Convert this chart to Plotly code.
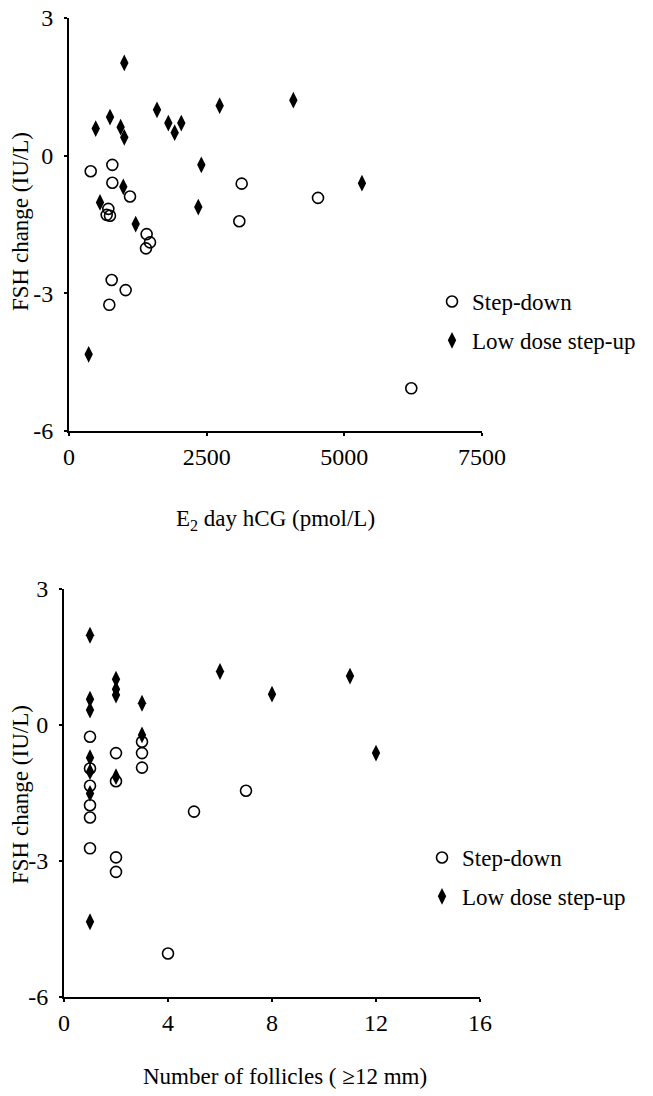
import plotly.graph_objects as go

# ---- Data: top panel (E2 day hCG vs FSH change) ----
sd_e2 = [394, 787, 787, 3136, 1108, 714, 684, 744, 3093, 1410, 1471, 1398, 775, 1029, 732, 4522, 6216]
sd_fsh_top = [-0.34, -0.20, -0.59, -0.61, -0.89, -1.16, -1.29, -1.31, -1.43, -1.71, -1.89, -2.02, -2.71, -2.93, -3.25, -0.92, -5.07]

ld_e2 = [1004, 485, 745, 938, 1004, 1598, 1804, 2039, 1919, 2736, 2403, 986, 563, 1211, 2348, 4074, 5320, 357]
ld_fsh_top = [2.02, 0.59, 0.84, 0.62, 0.40, 1.00, 0.71, 0.71, 0.50, 1.09, -0.20, -0.68, -1.02, -1.49, -1.12, 1.21, -0.60, -4.33]

# ---- Data: bottom panel (number of follicles vs FSH change) ----
sd_foll = [1, 1, 1, 1, 1, 1, 2, 2, 2, 2, 3, 3, 3, 4, 5, 7]
sd_fsh_bot = [-0.26, -0.96, -1.34, -1.77, -2.04, -2.72, -0.62, -1.24, -2.92, -3.24, -0.37, -0.62, -0.94, -5.04, -1.91, -1.45]

ld_foll = [1, 1, 1, 1, 1, 1, 1, 2, 2, 2, 2, 3, 3, 6, 8, 11, 12]
ld_fsh_bot = [1.98, 0.57, 0.33, -0.72, -1.03, -1.51, -4.34, 1.01, 0.79, 0.66, -1.14, 0.48, -0.22, 1.18, 0.68, 1.08, -0.62]

y_ticks = [-6, -3, 0, 3]
y_ticktext = ["-6", "-3", "0", "3"]
x1_ticks = [0, 2500, 5000, 7500]
x2_ticks = [0, 4, 8, 12, 16]

FONT = "Liberation Serif"
W, H = 653, 1096

def px_x(p):
    return p / W

def px_y(p):
    return 1 - p / H

fig = go.Figure()

circle = dict(symbol="circle-open", size=11, color="black", line=dict(width=1.6, color="black"))
diamond = dict(symbol="diamond-tall", size=12, color="black", line=dict(width=0))

fig.add_trace(go.Scatter(x=sd_e2, y=sd_fsh_top, mode="markers", marker=circle,
                         name="Step-down", xaxis="x", yaxis="y", legend="legend", legendgroup="a"))
fig.add_trace(go.Scatter(x=ld_e2, y=ld_fsh_top, mode="markers", marker=diamond,
                         name="Low dose step-up", xaxis="x", yaxis="y", legend="legend", legendgroup="b"))
fig.add_trace(go.Scatter(x=sd_foll, y=sd_fsh_bot, mode="markers", marker=circle,
                         name="Step-down", xaxis="x2", yaxis="y2", legend="legend2", legendgroup="c"))
fig.add_trace(go.Scatter(x=ld_foll, y=ld_fsh_bot, mode="markers", marker=diamond,
                         name="Low dose step-up", xaxis="x2", yaxis="y2", legend="legend2", legendgroup="d"))

axis_common = dict(showgrid=False, zeroline=False, showline=True, linecolor="black", linewidth=2,
                   ticks="outside", ticklen=3, tickwidth=2, tickcolor="black",
                   tickfont=dict(family=FONT, size=24, color="black"), automargin=False)

legend_common = dict(font=dict(family=FONT, size=23, color="black"), bgcolor="rgba(0,0,0,0)",
                     borderwidth=0, tracegroupgap=6, itemwidth=30, xanchor="left", yanchor="top")

y_labels = [t + "\u00a0" for t in y_ticktext]

fig.update_layout(
    width=W, height=H,
    margin=dict(l=0, r=0, t=0, b=0),
    paper_bgcolor="white", plot_bgcolor="white",
    font=dict(family=FONT, color="black"),
    xaxis=dict(domain=[px_x(69), px_x(482)], range=[0, 7500], tickvals=x1_ticks,
               anchor="y", **axis_common),
    yaxis=dict(domain=[px_y(431), px_y(18)], range=[-6, 3], tickvals=y_ticks, ticktext=y_labels,
               anchor="x", **axis_common),
    xaxis2=dict(domain=[px_x(64), px_x(480)], range=[0, 16], tickvals=x2_ticks,
                anchor="y2", **axis_common),
    yaxis2=dict(domain=[px_y(997), px_y(589)], range=[-6, 3], tickvals=y_ticks, ticktext=y_labels,
                anchor="x2", **axis_common),
    legend=dict(x=px_x(432), y=px_y(280), **legend_common),
    legend2=dict(x=px_x(422), y=px_y(836), **legend_common),
    showlegend=True,
)

title_font = dict(family=FONT, size=23, color="black")
fig.add_annotation(text="E<sub>2</sub> day hCG (pmol/L)", x=px_x(275), y=px_y(520), xref="paper", yref="paper",
                   showarrow=False, font=title_font, xanchor="center", yanchor="middle")
fig.add_annotation(text="Number of follicles ( ≥12 mm)", x=px_x(285), y=px_y(1076), xref="paper", yref="paper",
                   showarrow=False, font=title_font, xanchor="center", yanchor="middle")
fig.add_annotation(text="FSH change (IU/L)", x=px_x(20), y=px_y(222), xref="paper", yref="paper",
                   showarrow=False, font=title_font, textangle=-90, xanchor="center", yanchor="middle")
fig.add_annotation(text="FSH change (IU/L)", x=px_x(20), y=px_y(795), xref="paper", yref="paper",
                   showarrow=False, font=title_font, textangle=-90, xanchor="center", yanchor="middle")

fig.write_html("out.html")
